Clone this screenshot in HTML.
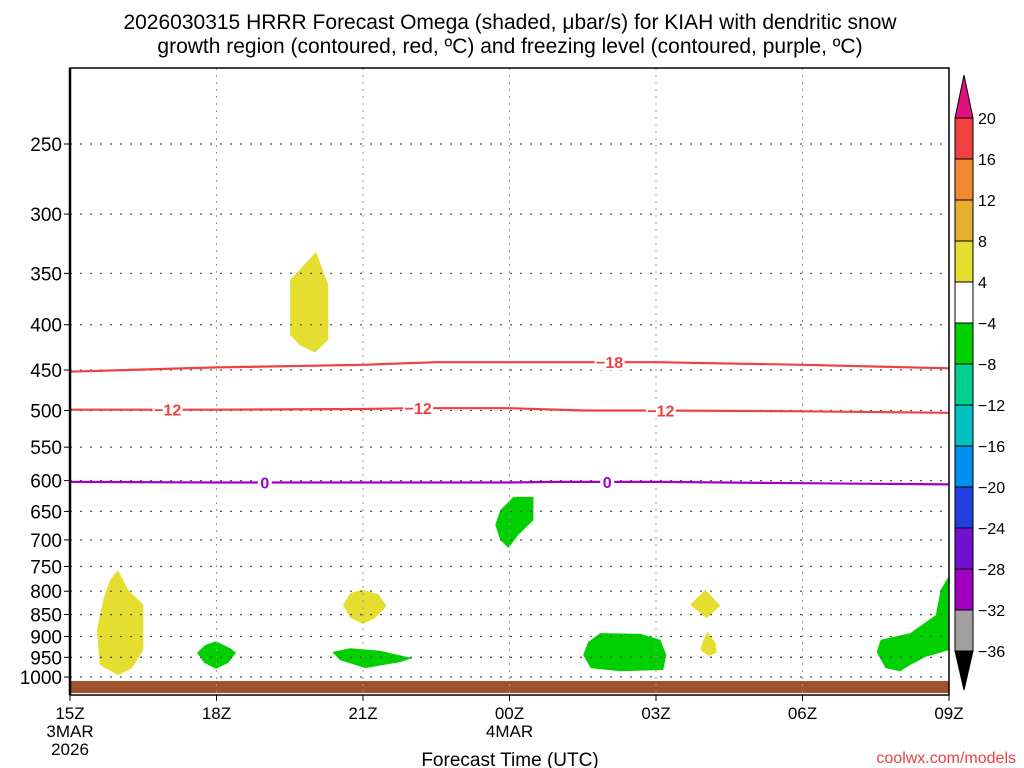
<!DOCTYPE html>
<html><head><meta charset="utf-8"><style>
body{margin:0;background:#fff;}
svg{display:block;font-family:"Liberation Sans","DejaVu Sans",sans-serif;}
</style></head><body>
<svg id="c" width="1024" height="768" xmlns="http://www.w3.org/2000/svg">
<text x="510" y="29" text-anchor="middle" font-size="21" fill="#000">2026030315 HRRR Forecast Omega (shaded, μbar/s) for KIAH with dendritic snow</text>
<text x="510" y="53" text-anchor="middle" font-size="21" fill="#000">growth region (contoured, red, ºC) and freezing level (contoured, purple, ºC)</text>
<g id="plot"></g>
<text x="510" y="766" text-anchor="middle" font-size="19" fill="#000">Forecast Time (UTC)</text>
<text x="1016" y="763" text-anchor="end" font-size="16" fill="#e84040">coolwx.com/models</text>
</svg>
<script>
const pTicks=[250,300,350,400,450,500,550,600,650,700,750,800,850,900,950,1000];
const tTicks=[0,3,6,9,12,15,18];
const tLabels=["15Z","18Z","21Z","00Z","03Z","06Z","09Z"];
const cbLevels=[20,16,12,8,4,-4,-8,-12,-16,-20,-24,-28,-32,-36];
const cbColors=["#f04040","#f08a30","#e5b030","#e5dd30","#ffffff","#00d000","#00d090","#00c0c0","#0090f0","#2040e0","#7010d0","#a000c0","#a0a0a0"];
const line18H=[0,3,6,7.5,9,12,15,18];
const line18P=[452,447,444,441,441,441,444,448];
const line12H=[0,3,6,7,9,10.5,12,15,18];
const line12P=[499,499,498,497,497,500,500,501,503];
const line0H=[0,3,6,9,10,12,15,18];
const line0P=[602,603,603,603,602,602,604,606];
const blobs=[
 {c:"#e5dd30",h:[0.98,1.19,1.5,1.5,1.27,0.98,0.61,0.55,0.68,0.82],p:[757,797,829,932,977,995,969,885,818,777]},
 {c:"#e5dd30",h:[5.04,5.29,5.29,5.02,4.71,4.51,4.51],p:[331,361,416,430,422,411,356]},
 {c:"#00d000",h:[2.99,3.28,3.40,3.24,2.99,2.75,2.60,2.77],p:[911,928,939,964,979,964,939,920]},
 {c:"#e5dd30",h:[5.98,6.31,6.48,6.25,6.0,5.74,5.59,5.74],p:[797,806,831,858,871,857,829,804]},
 {c:"#00d000",h:[5.37,5.74,6.35,7.01,6.76,6.05,5.53],p:[937,928,934,952,962,977,957]},
 {c:"#00d000",h:[9.08,9.49,9.49,9.18,8.98,8.81,8.71,8.81],p:[626,626,665,691,715,700,673,648]},
 {c:"#00d000",h:[10.86,11.68,12.09,12.21,12.15,11.27,10.66,10.51,10.61],p:[892,894,908,944,982,985,977,944,913]},
 {c:"#e5dd30",h:[13.01,13.32,13.03,12.70],p:[797,831,858,829]},
 {c:"#e5dd30",h:[13.05,13.22,13.24,13.07,12.91,12.97],p:[889,915,939,946,932,908]},
 {c:"#00d000",h:[18.01,18.01,17.52,17.21,17.0,16.7,16.52,16.6,17.21,17.73,17.83],p:[767,932,949,969,985,977,937,908,892,851,797]}
];
const X0=70,X1=949,Y0=68,Y1=695;
const xs=h=>X0+h*(X1-X0)/18;
const ys=p=>144+384.5*Math.log(p/250);
const NS="http://www.w3.org/2000/svg";
const g=document.getElementById('plot');
function mk(t,a){const e=document.createElementNS(NS,t);for(const k in a)e.setAttribute(k,a[k]);g.appendChild(e);return e;}
const defs=mk('defs',{});
const cp=document.createElementNS(NS,'clipPath');cp.setAttribute('id','clip');
const cr=document.createElementNS(NS,'rect');cr.setAttribute('x',X0);cr.setAttribute('y',Y0);cr.setAttribute('width',X1-X0);cr.setAttribute('height',Y1-Y0);cp.appendChild(cr);defs.appendChild(cp);
blobs.forEach((b,i)=>{
 const pts=b.h.map((h,j)=>xs(h).toFixed(1)+','+ys(b.p[j]).toFixed(1)).join(' ');
 const e=mk('polygon',{points:pts,fill:b.c,'clip-path':'url(#clip)'});
 
 
});
let gr=mk('rect',{x:X0,y:681,width:X1-X0,height:12,fill:'#a0522d'});


pTicks.forEach(p=>{
 const y=ys(p);
 let l=mk('line',{x1:X0,x2:X1,y1:y,y2:y,stroke:'#555','stroke-dasharray':'2,8','stroke-width':1.3});
 
 
 mk('line',{x1:X0-6,x2:X0,y1:y,y2:y,stroke:'#000'});
 let t=mk('text',{x:X0-8,y:y+7,'text-anchor':'end','font-size':19,fill:'#000'});t.textContent=p;
 
 
});
tTicks.forEach((h,i)=>{
 const x=xs(h);
 if(i>0&&i<6){let l=mk('line',{x1:x,x2:x,y1:Y0,y2:Y1,stroke:'#999','stroke-dasharray':'2,5'});
 
 }
 mk('line',{x1:x,x2:x,y1:Y1,y2:Y1+6,stroke:'#000'});
 let t=mk('text',{x:x,y:719,'text-anchor':'middle','font-size':17,fill:'#000'});t.textContent=tLabels[i];
 
 
});
[["3MAR",0,737],["2026",0,755],["4MAR",9,737]].forEach(a=>{
 let t=mk('text',{x:xs(a[1]),y:a[2],'text-anchor':'middle','font-size':17,fill:'#000'});t.textContent=a[0];
 
 
});
function contour(H,P,col,name,labs,txt,w){
 const d=H.map((h,i)=>(i?'L':'M')+xs(h).toFixed(1)+','+ys(P[i]).toFixed(1)).join(' ');
 let e=mk('path',{d:d,fill:'none',stroke:col,'stroke-width':2.2});
 
 
 labs.forEach(h=>{
  let k=0;while(k<H.length-2&&H[k+1]<h)k++;
  const f=(h-H[k])/(H[k+1]-H[k]);const p=P[k]+f*(P[k+1]-P[k]);
  const x=xs(h),y=ys(p);
  mk('rect',{x:x-w/2,y:y-8,width:w,height:16,fill:'#fff'});
  let t=mk('text',{x:x,y:y+6,'text-anchor':'middle','font-size':16,'font-weight':'bold',fill:col});t.textContent=txt;
  
  
 });
}
contour(line18H,line18P,'#f04040','contour-minus18',[11.05],'−18',30);
contour(line12H,line12P,'#f04040','contour-minus12',[2.0,7.13,12.1],'−12',30);
contour(line0H,line0P,'#a000c8','freezing-level-0',[3.99,11.0],'0',14);
let fr=mk('rect',{x:X0,y:Y0,width:X1-X0,height:Y1-Y0,fill:'none',stroke:'#000','stroke-width':1.5});


mk('line',{x1:X0,x2:X0,y1:Y0,y2:Y1,stroke:'#000','stroke-width':2.5});
const CX=955,CW=18,CT=118,CS=41;
let tri=mk('polygon',{points:`${CX},${CT} ${CX+CW},${CT} ${CX+CW/2},75`,fill:'#e0107f',stroke:'#000'});


cbColors.forEach((c,i)=>{
 let r=mk('rect',{x:CX,y:CT+i*CS,width:CW,height:CS,fill:c,stroke:'#000'});
 
 
});
const cbB=CT+cbColors.length*CS;
let tri2=mk('polygon',{points:`${CX},${cbB} ${CX+CW},${cbB} ${CX+CW/2},690`,fill:'#000',stroke:'#000'});


cbLevels.forEach((v,i)=>{
 let t=mk('text',{x:978,y:CT+i*CS+6,'font-size':16,fill:'#000'});t.textContent=v<0?'−'+(-v):v;
 
 
});
</script>
</body></html>
